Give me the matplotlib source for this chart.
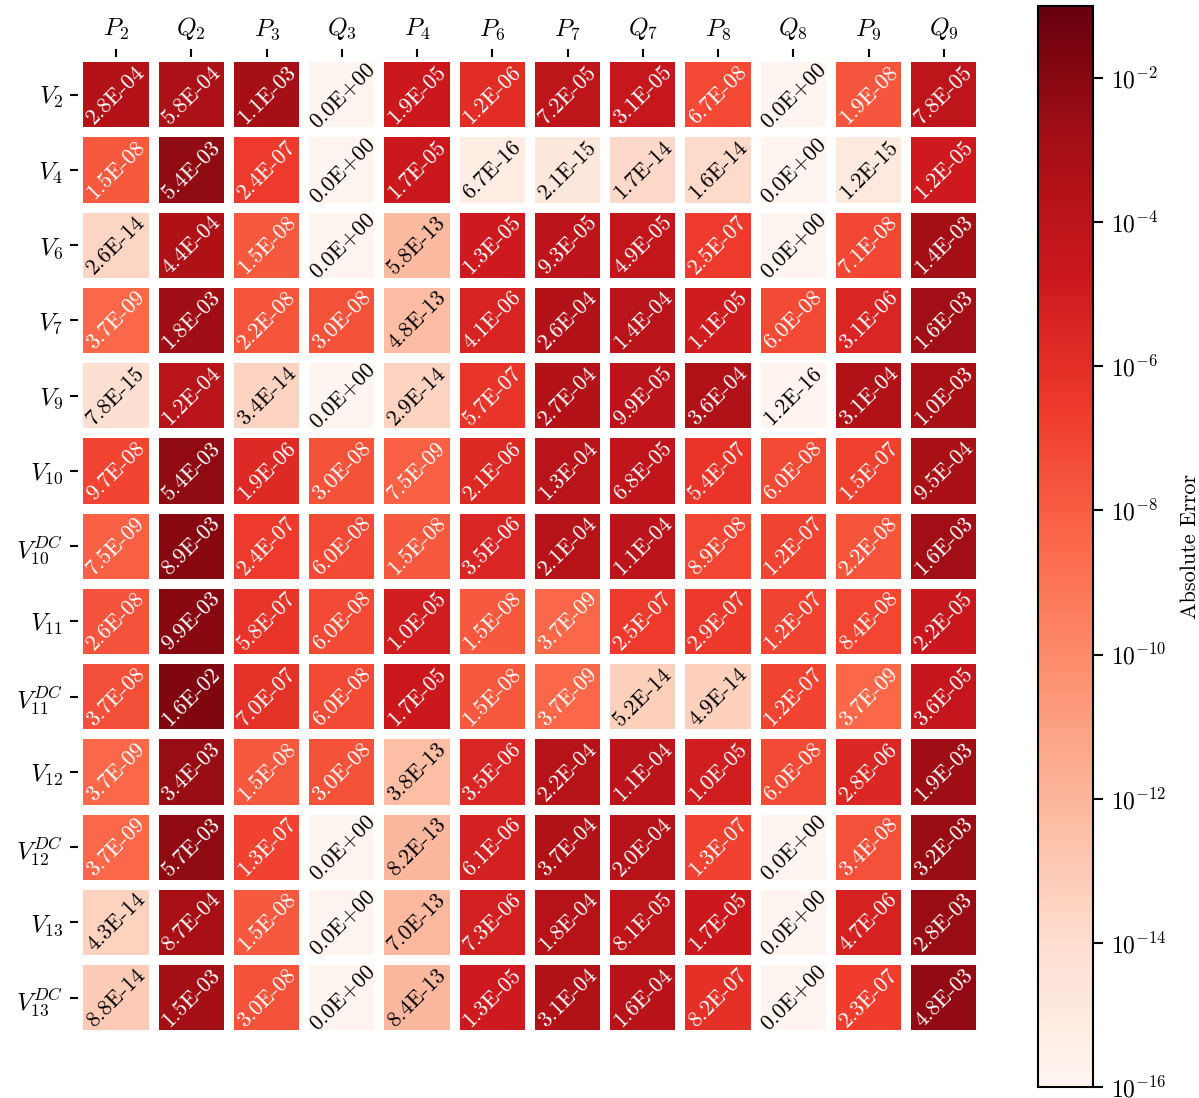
import numpy as np
import matplotlib
matplotlib.use("Agg")
import matplotlib.pyplot as plt
from matplotlib.colors import LogNorm
from matplotlib.ticker import NullLocator

plt.rcParams['font.family'] = 'serif'
plt.rcParams['font.serif'] = ['cmr10', 'DejaVu Serif']
plt.rcParams['mathtext.fontset'] = 'cm'
plt.rcParams['axes.formatter.use_mathtext'] = True
plt.rcParams['axes.unicode_minus'] = True

col_labels = [r'$P_{2}$', r'$Q_{2}$', r'$P_{3}$', r'$Q_{3}$', r'$P_{4}$', r'$P_{6}$',
              r'$P_{7}$', r'$Q_{7}$', r'$P_{8}$', r'$Q_{8}$', r'$P_{9}$', r'$Q_{9}$']
row_labels = [r'$V_{2}$', r'$V_{4}$', r'$V_{6}$', r'$V_{7}$', r'$V_{9}$', r'$V_{10}$',
              r'$V_{10}^{DC}$', r'$V_{11}$', r'$V_{11}^{DC}$', r'$V_{12}$',
              r'$V_{12}^{DC}$', r'$V_{13}$', r'$V_{13}^{DC}$']

V2 = [2.8e-04, 5.8e-04, 1.1e-03, 0.0, 1.9e-05, 1.2e-06, 7.2e-05, 3.1e-05, 6.7e-08, 0.0, 1.9e-08, 7.8e-05]
V4 = [1.5e-08, 5.4e-03, 2.4e-07, 0.0, 1.7e-05, 6.7e-16, 2.1e-15, 1.7e-14, 1.6e-14, 0.0, 1.2e-15, 1.2e-05]
V6 = [2.6e-14, 4.4e-04, 1.5e-08, 0.0, 5.8e-13, 1.3e-05, 9.3e-05, 4.9e-05, 2.5e-07, 0.0, 7.1e-08, 1.4e-03]
V7 = [3.7e-09, 1.8e-03, 2.2e-08, 3.0e-08, 4.8e-13, 4.1e-06, 2.6e-04, 1.4e-04, 1.1e-05, 6.0e-08, 3.1e-06, 1.6e-03]
V9 = [7.8e-15, 1.2e-04, 3.4e-14, 0.0, 2.9e-14, 5.7e-07, 2.7e-04, 9.9e-05, 3.6e-04, 1.2e-16, 3.1e-04, 1.0e-03]
V10 = [9.7e-08, 5.4e-03, 1.9e-06, 3.0e-08, 7.5e-09, 2.1e-06, 1.3e-04, 6.8e-05, 5.4e-07, 6.0e-08, 1.5e-07, 9.5e-04]
V10DC = [7.5e-09, 8.9e-03, 2.4e-07, 6.0e-08, 1.5e-08, 3.5e-06, 2.1e-04, 1.1e-04, 8.9e-08, 1.2e-07, 2.2e-08, 1.6e-03]
V11 = [2.6e-08, 9.9e-03, 5.8e-07, 6.0e-08, 1.0e-05, 1.5e-08, 3.7e-09, 2.5e-07, 2.9e-07, 1.2e-07, 8.4e-08, 2.2e-05]
V11DC = [3.7e-08, 1.6e-02, 7.0e-07, 6.0e-08, 1.7e-05, 1.5e-08, 3.7e-09, 5.2e-14, 4.9e-14, 1.2e-07, 3.7e-09, 3.6e-05]
V12 = [3.7e-09, 3.4e-03, 1.5e-08, 3.0e-08, 3.8e-13, 3.5e-06, 2.2e-04, 1.1e-04, 1.0e-05, 6.0e-08, 2.8e-06, 1.9e-03]
V12DC = [3.7e-09, 5.7e-03, 1.3e-07, 0.0, 8.2e-13, 6.1e-06, 3.7e-04, 2.0e-04, 1.3e-07, 0.0, 3.4e-08, 3.2e-03]
V13 = [4.3e-14, 8.7e-04, 1.5e-08, 0.0, 7.0e-13, 7.3e-06, 1.8e-04, 8.1e-05, 1.7e-05, 0.0, 4.7e-06, 2.8e-03]
V13DC = [8.8e-14, 1.5e-03, 3.0e-08, 0.0, 8.4e-13, 1.3e-05, 3.1e-04, 1.6e-04, 8.2e-07, 0.0, 2.3e-07, 4.8e-03]

data = np.array([V2, V4, V6, V7, V9, V10, V10DC, V11, V11DC, V12, V12DC, V13, V13DC])

vmin, vmax = 1e-16, 1e-1
norm = LogNorm(vmin=vmin, vmax=vmax)
cmap = plt.get_cmap('Reds')
cdata = np.clip(data, vmin, vmax)

fig = plt.figure(figsize=(11.99, 10.98), dpi=100)
ax = fig.add_axes([0.0654, 0.0571, 0.7531, 0.8909])
cax = fig.add_axes([0.8657, 0.0100, 0.0459, 0.9845])

nr, nc = data.shape
mesh = ax.pcolormesh(np.arange(nc + 1), np.arange(nr + 1), cdata, cmap=cmap, norm=norm,
                     edgecolors='white', linewidth=5.8)
ax.set_xlim(0, nc)
ax.set_ylim(nr, 0)
for s in ax.spines.values():
    s.set_visible(False)

ax.xaxis.tick_top()
ax.set_xticks(np.arange(nc) + 0.5)
ax.set_xticklabels(col_labels, fontsize=18)
ax.set_yticks(np.arange(nr) + 0.5)
ax.set_yticklabels(row_labels, fontsize=18)
ax.tick_params(axis='both', length=6, width=1.5, pad=5)


def lum(c):
    rgb = np.array(c[:3])
    rgb = np.where(rgb <= 0.03928, rgb / 12.92, ((rgb + 0.055) / 1.055) ** 2.4)
    return 0.2126 * rgb[0] + 0.7152 * rgb[1] + 0.0722 * rgb[2]


for i in range(nr):
    for j in range(nc):
        val = data[i, j]
        col = cmap(norm(cdata[i, j]))
        tc = 'black' if lum(col) > 0.408 else 'white'
        ax.text(j + 0.5, i + 0.5, f"{val:.1E}", rotation=45, ha='center', va='center',
                rotation_mode='anchor', color=tc, fontsize=16)

cb = fig.colorbar(mesh, cax=cax)
cb.set_ticks([10.0 ** k for k in range(-16, -1, 2)])
cax.yaxis.set_minor_locator(NullLocator())
cax.tick_params(which='major', length=7, width=1.5, labelsize=17, pad=6)
cb.outline.set_linewidth(1.5)
cb.set_label('Absolute Error', fontsize=16, labelpad=10)

fig.savefig('out.png', dpi=100)
